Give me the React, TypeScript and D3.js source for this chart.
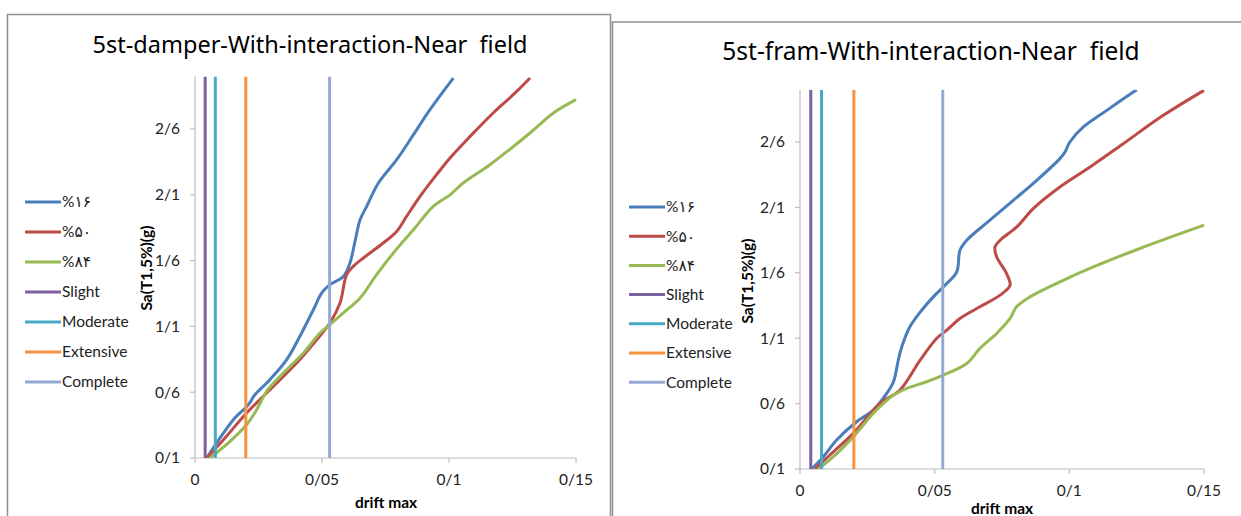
import React from "react";
import * as d3 from "d3";

// ---------- data ----------
const xTickValues = [0, 0.05, 0.1, 0.15];
const xTickLabels = ["0", "0/05", "0/1", "0/15"];
const yTickValues = [0.1, 0.6, 1.1, 1.6, 2.1, 2.6];
const yTickLabels = ["0/1", "0/6", "1/1", "1/6", "2/1", "2/6"];
const xDomain = [0, 0.15];
const yDomain = [0.1, 3.0];

const seriesNames = ["%۱۶", "%۵۰", "%۸۴"];
const damageStates = ["Slight", "Moderate", "Extensive", "Complete"];
const damageDrift = [0.004, 0.008, 0.02, 0.053];

const damper16: [number, number][] = [
  [0.0046, 0.1], [0.0085, 0.214], [0.0151, 0.391], [0.021, 0.505], [0.0236, 0.581],
  [0.0295, 0.695], [0.0361, 0.847], [0.0413, 1.025], [0.0466, 1.227], [0.0499, 1.354],
  [0.0531, 1.417], [0.0584, 1.48], [0.061, 1.582], [0.063, 1.746], [0.065, 1.911],
  [0.0676, 2.012], [0.0722, 2.19], [0.0794, 2.367], [0.086, 2.557], [0.0925, 2.747],
  [0.1017, 2.987],
];
const damper50: [number, number][] = [
  [0.0046, 0.1], [0.0112, 0.239], [0.0203, 0.442], [0.0295, 0.619], [0.04, 0.822],
  [0.0479, 0.999], [0.0531, 1.126], [0.0571, 1.278], [0.0597, 1.493], [0.0623, 1.556],
  [0.0663, 1.62], [0.0741, 1.734], [0.0794, 1.822], [0.0833, 1.936], [0.0886, 2.088],
  [0.0951, 2.253], [0.1004, 2.38], [0.1083, 2.544], [0.1174, 2.722], [0.1253, 2.861],
  [0.1319, 2.988],
];
const damper84: [number, number][] = [
  [0.0059, 0.1], [0.0138, 0.227], [0.0203, 0.353], [0.0243, 0.467], [0.0282, 0.607],
  [0.0348, 0.746], [0.0427, 0.898], [0.0492, 1.05], [0.0531, 1.113], [0.0584, 1.202],
  [0.065, 1.316], [0.0715, 1.493], [0.0781, 1.658], [0.086, 1.835], [0.0938, 2.012],
  [0.1004, 2.1], [0.1056, 2.19], [0.1161, 2.329], [0.1319, 2.57], [0.1411, 2.722],
  [0.15, 2.823],
];

const frame16: [number, number][] = [
  [0.0043, 0.1], [0.0087, 0.194], [0.0136, 0.321], [0.021, 0.461], [0.0272, 0.551],
  [0.0322, 0.678], [0.0347, 0.767], [0.0365, 0.932], [0.0378, 1.034], [0.0408, 1.187],
  [0.0452, 1.314], [0.0495, 1.416], [0.0545, 1.518], [0.0582, 1.607], [0.0594, 1.773],
  [0.0619, 1.849], [0.0705, 2.002], [0.0792, 2.154], [0.0879, 2.307], [0.0965, 2.473],
  [0.0984, 2.524], [0.1002, 2.6], [0.1052, 2.715], [0.1139, 2.842], [0.125, 3.0],
];
const frame50: [number, number][] = [
  [0.0056, 0.1], [0.0111, 0.207], [0.0198, 0.372], [0.0297, 0.602], [0.0371, 0.703],
  [0.0446, 0.932], [0.0507, 1.098], [0.0545, 1.162], [0.0594, 1.251], [0.0668, 1.34],
  [0.0743, 1.429], [0.078, 1.505], [0.0767, 1.594], [0.073, 1.722], [0.0724, 1.798],
  [0.0743, 1.849], [0.0805, 1.951], [0.0866, 2.091], [0.0965, 2.256], [0.1077, 2.409],
  [0.12, 2.587], [0.1349, 2.804], [0.15, 2.995],
];
const frame84: [number, number][] = [
  [0.0068, 0.1], [0.0124, 0.194], [0.0198, 0.347], [0.0272, 0.525], [0.0347, 0.665],
  [0.0396, 0.716], [0.047, 0.767], [0.0532, 0.818], [0.0619, 0.907], [0.0668, 1.022],
  [0.073, 1.136], [0.078, 1.251], [0.0804, 1.34], [0.0854, 1.416], [0.0965, 1.531],
  [0.1089, 1.645], [0.1262, 1.786], [0.15, 1.964],
];

// ---------- styles ----------
const curveColors = ["#4A7EBB", "#BE4B48", "#98B954"];
const damageColors = ["#7D60A0", "#46AAC5", "#F69240", "#93A9D4"];
const FONT = "Lato, 'DejaVu Sans', sans-serif";
const TITLE_FONT = "'Noto Sans', 'DejaVu Sans', sans-serif";
const AXIS = "#BDBDBD";

type Layout = {
  frame: { x: number; y: number; w: number; h: number };
  title: { x: number; y: number; size: number };
  plot: { x0: number; x1: number; yb: number; yt: number };
  legend: { x: number; y0: number; dy: number };
  yTitle: { x: number; y: number };
  xTitle: { x: number; y: number };
};

function Chart({ id, title, series, L }: { id: string; title: string; series: [number, number][][]; L: Layout }) {
  const x = d3.scaleLinear().domain(xDomain).range([L.plot.x0, L.plot.x1]);
  const y = d3.scaleLinear().domain(yDomain).range([L.plot.yb, L.plot.yt]);
  const line = d3
    .line<[number, number]>()
    .x((d) => x(d[0]))
    .y((d) => y(d[1]))
    .curve(d3.curveCatmullRom.alpha(0.5));
  const legendItems = [
    ...seriesNames.map((n, i) => ({ name: n, color: curveColors[i] })),
    ...damageStates.map((n, i) => ({ name: n, color: damageColors[i] })),
  ];
  return (
    <g>
      <rect x={L.frame.x} y={L.frame.y} width={L.frame.w} height={L.frame.h} fill="#fff" stroke="#8E8E8E" strokeWidth={1.5} />
      <text
        x={L.title.x}
        y={L.title.y}
        textAnchor="middle"
        fontSize={L.title.size}
        fontFamily={TITLE_FONT}
        fill="#000"
        style={{ whiteSpace: "pre", fontVariantLigatures: "none" }}
      >
        {title}
      </text>
      <defs>
        <clipPath id={id}>
          <rect x={L.plot.x0} y={L.plot.yt} width={L.plot.x1 - L.plot.x0 + 2} height={L.plot.yb - L.plot.yt} />
        </clipPath>
      </defs>
      {/* axes */}
      <line x1={L.plot.x0} x2={L.plot.x0} y1={L.plot.yt} y2={L.plot.yb} stroke={AXIS} strokeWidth={1.2} />
      <line x1={L.plot.x0} x2={L.plot.x1} y1={L.plot.yb} y2={L.plot.yb} stroke={AXIS} strokeWidth={1.2} />
      {yTickValues.map((v, i) => (
        <g key={"y" + i}>
          <line x1={L.plot.x0 - 5} x2={L.plot.x0} y1={y(v)} y2={y(v)} stroke={AXIS} strokeWidth={1.2} />
          <text x={L.plot.x0 - 15} y={y(v)} dy="0.35em" textAnchor="end" fontSize={15.5} fontFamily={FONT} fill="#222">
            {yTickLabels[i]}
          </text>
        </g>
      ))}
      {xTickValues.map((v, i) => (
        <g key={"x" + i}>
          <line x1={x(v)} x2={x(v)} y1={L.plot.yb} y2={L.plot.yb + 5} stroke={AXIS} strokeWidth={1.2} />
          <text x={x(v)} y={L.plot.yb + 22} dy="0.35em" textAnchor="middle" fontSize={15.5} fontFamily={FONT} fill="#222">
            {xTickLabels[i]}
          </text>
        </g>
      ))}
      <text
        transform={`translate(${L.yTitle.x},${L.yTitle.y}) rotate(-90)`}
        dy="0.35em"
        textAnchor="middle"
        fontSize={15.5}
        fontWeight="bold"
        fontFamily={FONT}
        fill="#000"
      >
        Sa(T1,5%)(g)
      </text>
      <text x={L.xTitle.x} y={L.xTitle.y} dy="0.35em" textAnchor="middle" fontSize={15.5} fontWeight="bold" fontFamily={FONT} fill="#000">
        drift max
      </text>
      {/* series */}
      <g clipPath={`url(#${id})`}>
        {series.map((s, i) => (
          <path key={"s" + i} d={line(s) || ""} fill="none" stroke={curveColors[i]} strokeWidth={3} strokeLinejoin="round" />
        ))}
        {damageDrift.map((v, i) => (
          <line key={"d" + i} x1={x(v)} x2={x(v)} y1={y(yDomain[0])} y2={y(yDomain[1])} stroke={damageColors[i]} strokeWidth={3} />
        ))}
      </g>
      {/* legend */}
      {legendItems.map((it, i) => (
        <g key={"l" + i}>
          <line
            x1={L.legend.x}
            x2={L.legend.x + 36}
            y1={L.legend.y0 + i * L.legend.dy}
            y2={L.legend.y0 + i * L.legend.dy}
            stroke={it.color}
            strokeWidth={3}
          />
          <text x={L.legend.x + 37} y={L.legend.y0 + i * L.legend.dy} dy="0.35em" fontSize={15.5} fontFamily={FONT} fill="#222">
            {it.name}
          </text>
        </g>
      ))}
    </g>
  );
}

const leftLayout: Layout = {
  frame: { x: 7.5, y: 14.5, w: 603, h: 560 },
  title: { x: 310, y: 53, size: 23.5 },
  plot: { x0: 195, x1: 576, yb: 458, yt: 76.4 },
  legend: { x: 25, y0: 202, dy: 30 },
  yTitle: { x: 147, y: 268 },
  xTitle: { x: 386, y: 503 },
};
const rightLayout: Layout = {
  frame: { x: 612.5, y: 22, w: 700, h: 560 },
  title: { x: 931, y: 60, size: 24.5 },
  plot: { x0: 800, x1: 1204, yb: 469, yt: 89.7 },
  legend: { x: 629, y0: 207, dy: 29.2 },
  yTitle: { x: 748, y: 281 },
  xTitle: { x: 1002, y: 509 },
};

export default function App() {
  return (
    <svg width={1241} height={516} style={{ position: "absolute", left: 0, top: 0, background: "#fff" }}>
      <rect x={0} y={0} width={1241} height={516} fill="#fff" />
      <Chart id="clipL" title="5st-damper-With-interaction-Near  field" series={[damper16, damper50, damper84]} L={leftLayout} />
      <Chart id="clipR" title="5st-fram-With-interaction-Near  field" series={[frame16, frame50, frame84]} L={rightLayout} />
    </svg>
  );
}
